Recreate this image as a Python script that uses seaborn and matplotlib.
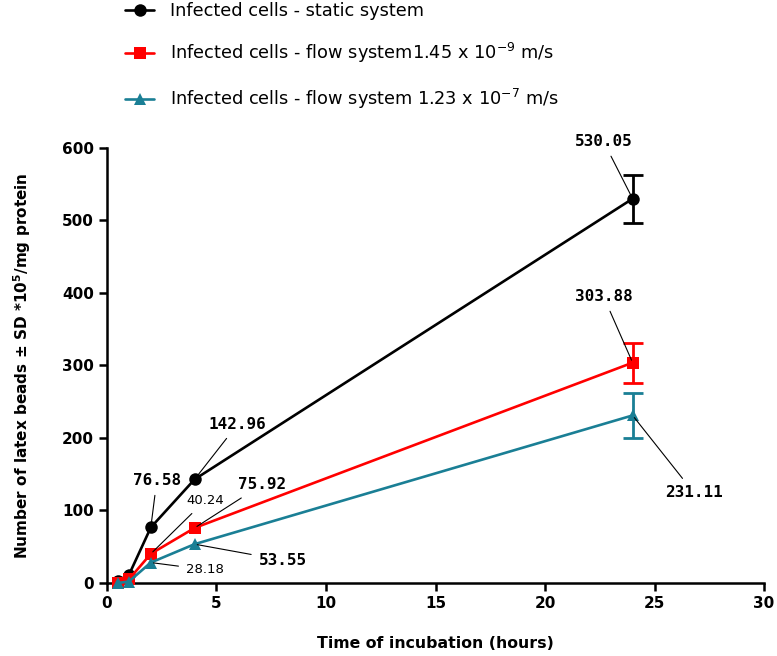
import numpy as np
import pandas as pd
import seaborn as sns
import matplotlib.pyplot as plt

# --- Data ---
hours = [0.5, 1, 2, 4, 24]
static = [3, 11, 76.58, 142.96, 530.05]
flow_slow = [0, 5, 40.24, 75.92, 303.88]
flow_fast = [0, 2, 28.18, 53.55, 231.11]
sd_static = [0, 0, 0, 0, 33]
sd_slow = [0, 0, 0, 0, 27.5]
sd_fast = [0, 0, 0, 0, 30.5]

series_names = [
    "Infected cells - static system",
    r"Infected cells - flow system1.45 x 10$^{\mathregular{-9}}$ m/s",
    r"Infected cells - flow system 1.23 x 10$^{\mathregular{-7}}$ m/s",
]
colors = ["#000000", "#ff0000", "#1a7f95"]
markers = ["o", "s", "^"]

dfs = []
for name, vals, sd in zip(series_names, [static, flow_slow, flow_fast],
                          [sd_static, sd_slow, sd_fast]):
    dfs.append(pd.DataFrame({"hours": hours, "beads": vals, "sd": sd, "System": name}))
df = pd.concat(dfs, ignore_index=True)

# --- Graph ---
sns.set_style("ticks")
plt.rcParams["font.family"] = ["DejaVu Sans"]
plt.rcParams["mathtext.fontset"] = "dejavusans"
for key in ["text.color", "axes.labelcolor", "xtick.color", "ytick.color", "axes.edgecolor"]:
    plt.rcParams[key] = "black"

fig = plt.figure(figsize=(7.77, 6.56), dpi=100)
ax = fig.add_axes([0.1377, 0.1113, 0.8456, 0.6631])

palette = dict(zip(series_names, colors))
marker_map = dict(zip(series_names, markers))

# error bars (only where SD is visible), under the lines
for name in series_names:
    sub = df[(df["System"] == name) & (df["sd"] > 0)]
    ax.errorbar(sub["hours"], sub["beads"], yerr=sub["sd"], fmt="none",
                ecolor=palette[name], elinewidth=2, capsize=7, capthick=2,
                clip_on=False, zorder=2)

sns.lineplot(data=df, x="hours", y="beads", hue="System", style="System",
             hue_order=series_names, style_order=series_names,
             palette=palette, markers=marker_map, dashes=False,
             linewidth=1.9, markersize=9, markeredgewidth=0,
             ax=ax, clip_on=False, zorder=3)

ax.set_xlim(0, 30)
ax.set_ylim(0, 600)
ax.set_xticks([0, 5, 10, 15, 20, 25, 30])
ax.set_yticks([0, 100, 200, 300, 400, 500, 600])
for side in ["top", "right"]:
    ax.spines[side].set_visible(False)
for side in ["left", "bottom"]:
    ax.spines[side].set_linewidth(1.8)
ax.tick_params(width=1.8, length=6, labelsize=11, direction="out")
for lab in ax.get_xticklabels() + ax.get_yticklabels():
    lab.set_fontweight("bold")

ax.set_xlabel("Time of incubation (hours)", fontsize=11.3, fontweight="bold", labelpad=18)
ax.set_ylabel(r"Number of latex beads ± SD *10$^{\mathregular{5}}$/mg protein",
              fontsize=11, fontweight="bold", labelpad=21)

# value labels with leader lines (offsets in pixels)
big = dict(family="DejaVu Sans Mono", fontsize=11.5, fontweight="bold")
small = dict(family="DejaVu Sans", fontsize=9.5)
labels = [
    (24, static[4], "530.05", (-29, 57), big),
    (24, flow_slow[4], "303.88", (-29, 66), big),
    (24, flow_fast[4], "231.11", (61, -77), big),
    (4, static[3], "142.96", (43, 55), big),
    (2, static[2], "76.58", (6, 47), big),
    (2, flow_slow[2], "40.24", (54, 53), small),
    (4, flow_slow[3], "75.92", (67, 43), big),
    (4, flow_fast[3], "53.55", (88, -16), big),
    (2, flow_fast[2], "28.18", (54, -7), small),
]
for x, y, txt, off, fnt in labels:
    ax.annotate(txt, xy=(x, y), xytext=off, textcoords="offset pixels",
                ha="center", va="center", zorder=5,
                arrowprops=dict(arrowstyle="-", color="black", lw=0.8,
                                shrinkA=3, shrinkB=2), **fnt)

handles, labs = ax.get_legend_handles_labels()
ax.get_legend().remove()
fig.legend(handles, labs, loc="upper left", bbox_to_anchor=(125 / 777, 0.997),
           frameon=False, labelspacing=1.2, handlelength=1.65,
           handletextpad=0.9, borderpad=0, borderaxespad=0,
           prop={"family": ["DejaVu Sans"], "size": 12.8})

plt.savefig("out.png", dpi=100)
